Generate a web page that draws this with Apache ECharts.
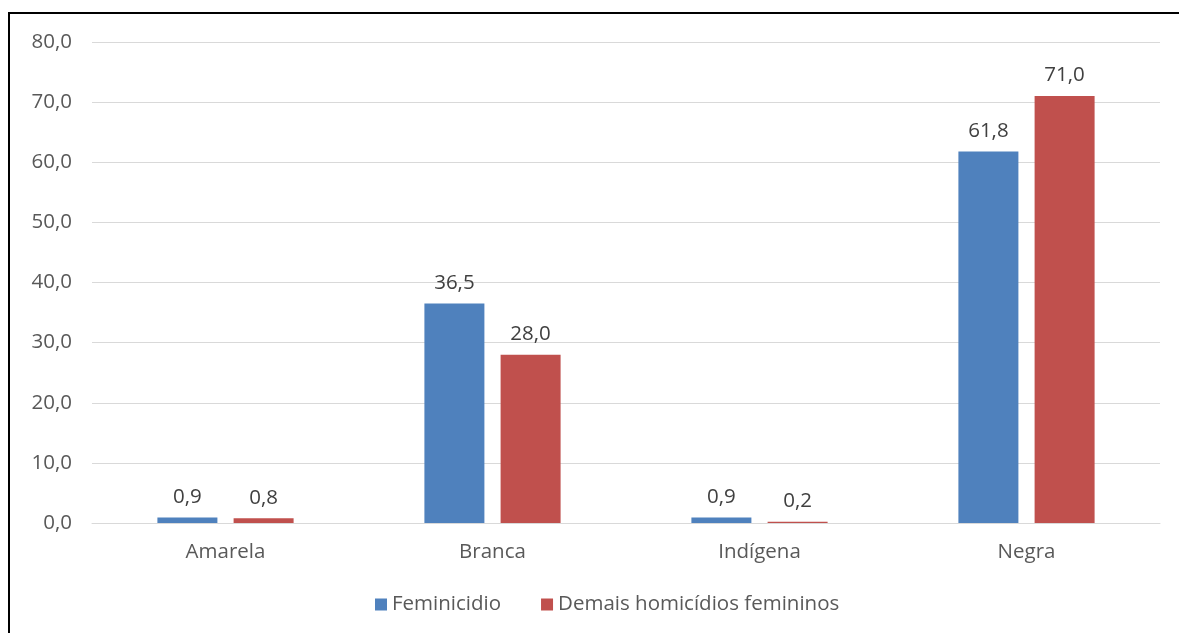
<!DOCTYPE html>
<html>
<head>
<meta charset="utf-8">
<script src="https://cdn.jsdelivr.net/npm/echarts@6/dist/echarts.min.js"></script>
<style>
  html, body { margin: 0; padding: 0; background: #fff; }
  #frame { position: absolute; left: 8px; top: 12px; width: 1200px; height: 700px;
           border-left: 2px solid #000; border-top: 2px solid #000; box-sizing: border-box; }
  #chart { position: absolute; left: 0; top: 0; width: 1179px; height: 633px; }
</style>
</head>
<body>
<div id="frame"></div>
<div id="chart"></div>
<script>
// categories and values
const categories = ['Amarela', 'Branca', 'Indígena', 'Negra'];
const feminicidio = [0.9, 36.5, 0.9, 61.8];
const demaisHomicidios = [0.8, 28.0, 0.2, 71.0];
const seriesNames = ['Feminicidio', 'Demais homicídios femininos'];

const fmt = v => Number(v).toFixed(1).replace('.', ',');
const font = "'Open Sans', 'Liberation Sans', sans-serif";

const chart = echarts.init(document.getElementById('chart'));

const barLabel = {
  show: true,
  position: 'top',
  distance: 10,
  color: '#404040',
  fontFamily: font,
  fontSize: 20.5,
  formatter: p => fmt(p.value)
};

const option = {
  backgroundColor: 'transparent',
  animation: false,
  grid: { left: 92, right: 19, top: 42, bottom: 110 },
  legend: {
    bottom: 13,
    left: 370,
    icon: 'rect',
    itemWidth: 12,
    itemHeight: 12,
    itemGap: 40,
    textStyle: { color: '#595959', fontFamily: font, fontSize: 20.5 },
    data: seriesNames
  },
  xAxis: {
    type: 'category',
    data: categories,
    axisLine: { lineStyle: { color: '#D9D9D9' } },
    axisTick: { show: false },
    axisLabel: { color: '#595959', fontFamily: font, fontSize: 20.5, margin: 19 }
  },
  yAxis: {
    type: 'value',
    min: 0,
    max: 80,
    interval: 10,
    axisLine: { show: false },
    axisTick: { show: false },
    splitLine: { lineStyle: { color: '#D9D9D9' } },
    axisLabel: { color: '#595959', fontFamily: font, fontSize: 20.5, margin: 20, formatter: v => fmt(v) }
  },
  series: [
    {
      name: seriesNames[0],
      type: 'bar',
      data: feminicidio,
      barWidth: 60,
      barGap: '27%',
      itemStyle: { color: '#4F81BD' },
      label: barLabel
    },
    {
      name: seriesNames[1],
      type: 'bar',
      data: demaisHomicidios,
      barWidth: 60,
      barGap: '27%',
      itemStyle: { color: '#C0504D' },
      label: barLabel
    }
  ]
};

chart.setOption(option);
</script>
</body>
</html>
